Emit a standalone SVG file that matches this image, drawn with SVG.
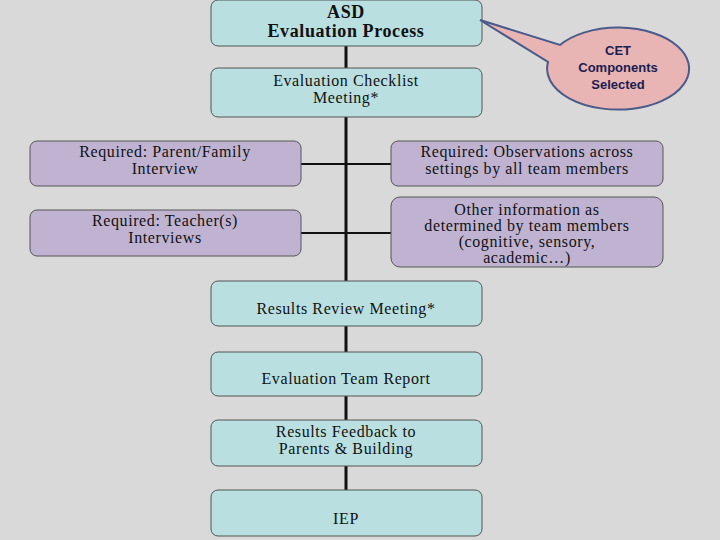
<svg xmlns="http://www.w3.org/2000/svg" width="720" height="540" viewBox="0 0 720 540">
<style>
.t{fill:#b9dfe0;stroke:#555;stroke-width:1}
.p{fill:#c0b3d1;stroke:#555;stroke-width:1}
text{font-family:"Liberation Serif",serif;font-size:16px;letter-spacing:0.6px;fill:#111;text-anchor:middle}
.b{font-weight:bold;font-size:18px}
.c{stroke:#111;stroke-width:3;fill:none}
.s{font-family:"Liberation Sans",sans-serif;font-size:13px;font-weight:bold;fill:#1a2050;letter-spacing:0}
</style>
<rect width="720" height="540" fill="#d9d9d9"/>
<g id="connectors">
<line class="c" x1="346" y1="46" x2="346" y2="490"/>
<line class="c" x1="301" y1="164" x2="391" y2="164" style="stroke-width:2"/>
<line class="c" x1="301" y1="233" x2="391" y2="233" style="stroke-width:2"/>
</g>
<g id="asd"><rect class="t" x="211" y="0" width="271" height="46" rx="7"/>
<text class="b" x="346" y="18">ASD</text><text class="b" x="346" y="37">Evaluation Process</text></g>
<g id="callout"><path d="M480,20 L560,45 A71,41 0 1,1 548,62 Z" fill="#e8b4b4" stroke="#4a5a8a" stroke-width="2"/>
<text class="s" x="618" y="55">CET</text>
<text class="s" x="618" y="72">Components</text>
<text class="s" x="618" y="89">Selected</text></g>
<g id="checklist"><rect class="t" x="211" y="68" width="271" height="49" rx="7"/>
<text x="346" y="86">Evaluation Checklist</text><text x="346" y="103">Meeting*</text></g>
<g id="parent"><rect class="p" x="30" y="141" width="271" height="45" rx="7"/>
<text x="165" y="157">Required:  Parent/Family</text><text x="165" y="174">Interview</text></g>
<g id="teacher"><rect class="p" x="30" y="210" width="271" height="46" rx="7"/>
<text x="165" y="226">Required:  Teacher(s)</text><text x="165" y="243">Interviews</text></g>
<g id="observ"><rect class="p" x="391" y="141" width="272" height="45" rx="7"/>
<text x="527" y="157">Required:  Observations across</text><text x="527" y="174">settings by all team members</text></g>
<g id="other"><rect class="p" x="391" y="197" width="272" height="70" rx="9"/>
<text x="527" y="215">Other information as</text><text x="527" y="231">determined by team members</text><text x="527" y="247">(cognitive, sensory,</text><text x="527" y="263">academic…)</text></g>
<g id="review"><rect class="t" x="211" y="281" width="271" height="45" rx="7"/>
<text x="346" y="314">Results Review Meeting*</text></g>
<g id="report"><rect class="t" x="211" y="352" width="271" height="44" rx="7"/>
<text x="346" y="384">Evaluation Team Report</text></g>
<g id="feedback"><rect class="t" x="211" y="420" width="271" height="46" rx="7"/>
<text x="346" y="437">Results Feedback to</text><text x="346" y="454">Parents &amp; Building</text></g>
<g id="iep"><rect class="t" x="211" y="490" width="271" height="46" rx="7"/>
<text x="346" y="524">IEP</text></g>
</svg>
